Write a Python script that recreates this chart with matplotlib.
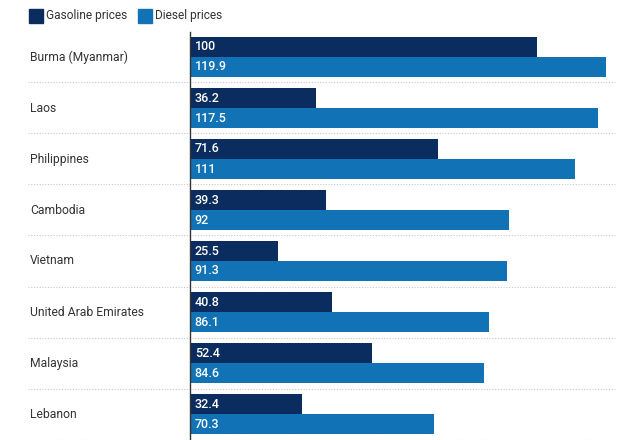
import matplotlib
matplotlib.use("Agg")
import matplotlib.pyplot as plt
from matplotlib.patches import Rectangle

countries = ["Burma (Myanmar)", "Laos", "Philippines", "Cambodia", "Vietnam",
             "United Arab Emirates", "Malaysia", "Lebanon"]
gasoline = [100, 36.2, 71.6, 39.3, 25.5, 40.8, 52.4, 32.4]
diesel = [119.9, 117.5, 111, 92, 91.3, 86.1, 84.6, 70.3]
value_labels_g = ["100", "36.2", "71.6", "39.3", "25.5", "40.8", "52.4", "32.4"]
value_labels_d = ["119.9", "117.5", "111", "92", "91.3", "86.1", "84.6", "70.3"]

C_GAS = "#0b2c5f"
C_DIE = "#1172b6"

plt.rcParams['font.family'] = ['Roboto', 'DejaVu Sans']

W, H = 619, 440
fig = plt.figure(figsize=(W / 100, H / 100), dpi=100)
ax_l, ax_r, ax_t, ax_b = 190, 615, 32, 440
ax = fig.add_axes([ax_l / W, 1 - ax_b / H, (ax_r - ax_l) / W, (ax_b - ax_t) / H])

px_per_unit = 51.0
bh = 20 / px_per_unit
xmax = (ax_r - ax_l) / 3.47
ax.set_xlim(0, xmax)
ax.set_ylim(7 + (440 - 414) / px_per_unit, -25 / px_per_unit)

ys = list(range(len(countries)))
ax.barh([y - bh / 2 for y in ys], gasoline, height=bh, color=C_GAS)
ax.barh([y + bh / 2 for y in ys], diesel, height=bh, color=C_DIE)

for y, g, d, lg, ld in zip(ys, gasoline, diesel, value_labels_g, value_labels_d):
    ax.text(1.4, y - bh / 2, lg, color="white", fontsize=9, fontweight="medium",
            va="center", ha="left")
    ax.text(1.4, y + bh / 2, ld, color="white", fontsize=9, fontweight="medium",
            va="center", ha="left")
    ax.text(-(ax_l - 30) / 3.47, y, countries[y], color="#333333", fontsize=8.7,
            va="center", ha="left")

xmin_frac = -(ax_l - 28) / (ax_r - ax_l)
for y in ys:
    ax.axhline(y + 0.5, xmin=xmin_frac, xmax=1.0, color="#c8c8c8", lw=0.8,
               ls=(0, (1, 1.5)), clip_on=False, zorder=0)

for s in ["top", "right", "bottom"]:
    ax.spines[s].set_visible(False)
ax.spines["left"].set_color("#333333")
ax.spines["left"].set_linewidth(1.0)
ax.set_xticks([])
ax.set_yticks([])

# legend
fig.add_artist(Rectangle((29 / W, 1 - 23 / H), 14 / W, 14 / H, color=C_GAS,
                         transform=fig.transFigure))
fig.text(46 / W, 1 - 16 / H, "Gasoline prices", fontsize=8.6, color="#333333",
         va="center", ha="left")
fig.add_artist(Rectangle((138 / W, 1 - 23 / H), 14 / W, 14 / H, color=C_DIE,
                         transform=fig.transFigure))
fig.text(155 / W, 1 - 16 / H, "Diesel prices", fontsize=8.6, color="#333333",
         va="center", ha="left")

fig.savefig("out.png", dpi=100, facecolor="white")
